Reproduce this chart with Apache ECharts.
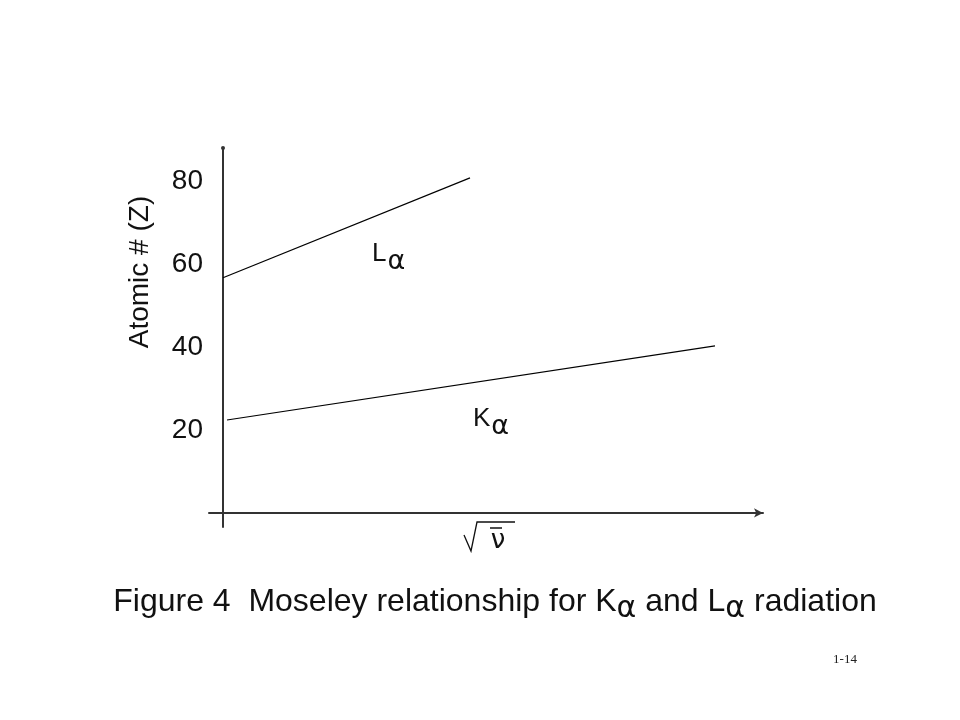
<!DOCTYPE html>
<html>
<head>
<meta charset="utf-8">
<script src="https://cdn.jsdelivr.net/npm/echarts@6/dist/echarts.min.js"></script>
<style>html,body{margin:0;padding:0;background:#fff;}#c{width:960px;height:720px;}</style>
</head>
<body>
<div id="c"></div>
<script>
// Data (arbitrary sqrt(nu) units on x)
const laX = [0, 24.7];
const laZ = [56.7, 80.8];
const kaX = [0.4, 49.2];
const kaZ = [22.4, 40.3];
const yTickValues = [20, 40, 60, 80];
const yTitle = 'Atomic # (Z)';
const caption = '{t|Figure 4  Moseley relationship for K}{s|α}{t| and L}{s|α}{t| radiation}';
const pageNo = '1-14';

const chart = echarts.init(document.getElementById('c'), null, {renderer: 'canvas'});
const toPairs = (xs, ys) => xs.map((x, i) => [x, ys[i]]);
const subRich = {
  b: {fontFamily: 'Liberation Sans', fontSize: 27, color: '#111', verticalAlign: 'bottom', lineHeight: 30},
  s: {fontFamily: 'DejaVu Sans', fontSize: 27, color: '#111', verticalAlign: 'bottom', lineHeight: 30, padding: [0, 0, 0, 1]}
};

chart.setOption({
  backgroundColor: '#ffffff',
  animation: false,
  grid: {left: 209, right: 197, top: 148, bottom: 193},
  xAxis: {
    type: 'value', min: -1.4, max: 54,
    axisLine: {show: true, onZero: true, symbol: ['none', 'arrow'], symbolSize: [7, 9], lineStyle: {color: '#333', width: 2}},
    axisTick: {show: false}, axisLabel: {show: false}, splitLine: {show: false}
  },
  yAxis: {
    type: 'value', min: -3.4, max: 88,
    axisLine: {show: true, onZero: true, symbol: ['none', 'circle'], symbolSize: [4, 4], lineStyle: {color: '#333', width: 2}},
    axisTick: {show: false}, splitLine: {show: false},
    axisLabel: {customValues: yTickValues, fontSize: 28, color: '#111', margin: 6, fontFamily: 'Liberation Sans'}
  },
  series: [
    {type: 'line', data: toPairs(laX, laZ), symbol: 'none', lineStyle: {color: '#000', width: 1.2}},
    {type: 'line', data: toPairs(kaX, kaZ), symbol: 'none', lineStyle: {color: '#000', width: 1.2}}
  ],
  graphic: [
    {type: 'text', x: 140, y: 272, rotation: Math.PI / 2,
      style: {text: yTitle, font: '28px "Liberation Sans"', fill: '#111', align: 'center', verticalAlign: 'middle'}},
    {type: 'text', x: 372, y: 243,
      style: {text: '{b|L}{s|α}', fill: '#111', rich: {
        b: {fontFamily: 'Liberation Sans', fontSize: 26, color: '#111', lineHeight: 22},
        s: {fontFamily: 'DejaVu Sans', fontSize: 27, color: '#111', lineHeight: 22, padding: [16, 0, 0, 1]}}}},
    {type: 'text', x: 473, y: 408,
      style: {text: '{b|K}{s|α}', fill: '#111', rich: {
        b: {fontFamily: 'Liberation Sans', fontSize: 26, color: '#111', lineHeight: 22},
        s: {fontFamily: 'DejaVu Sans', fontSize: 27, color: '#111', lineHeight: 22, padding: [16, 0, 0, 1]}}}},
    // sqrt(nu) axis label
    {type: 'polyline', shape: {points: [[464, 535], [471, 551], [477, 522], [515, 522]]}, style: {stroke: '#111', lineWidth: 1.3, fill: null}},
    {type: 'line', shape: {x1: 490, y1: 528, x2: 502, y2: 528}, style: {stroke: '#111', lineWidth: 1.5}},
    {type: 'text', x: 498, y: 541, style: {text: 'ν', font: '26px "DejaVu Sans"', fill: '#111', align: 'center', verticalAlign: 'middle'}},
    {type: 'text', x: 495, y: 588,
      style: {text: caption, fill: '#111', align: 'center', rich: {
        t: {fontFamily: 'Liberation Sans', fontSize: 32, color: '#111', lineHeight: 28},
        s: {fontFamily: 'DejaVu Sans', fontSize: 30, color: '#111', lineHeight: 28, padding: [14, 0, 0, 0]}}}},
    {type: 'text', x: 845, y: 660, style: {text: pageNo, font: '13px "Liberation Serif"', fill: '#222', align: 'center', verticalAlign: 'middle'}}
  ]
});
</script>
</body>
</html>
